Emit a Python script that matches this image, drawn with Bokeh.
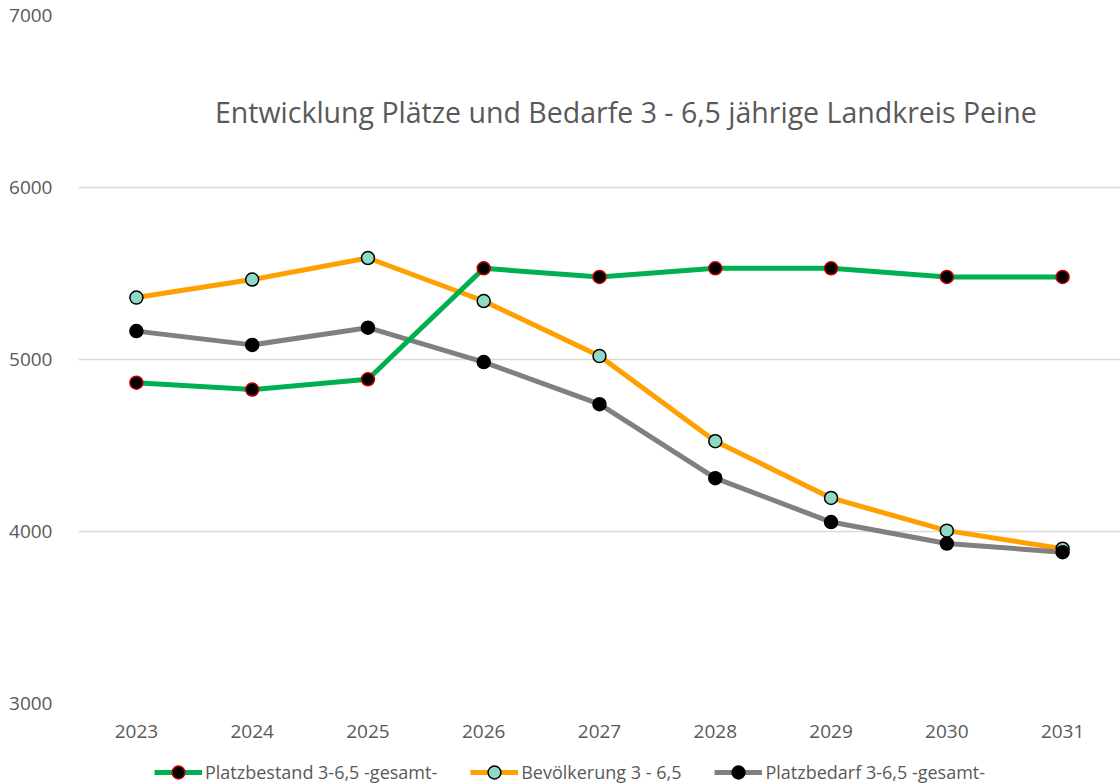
from bokeh.plotting import figure
from bokeh.models import Legend, LegendItem, Label, FixedTicker, Range1d
from bokeh.layouts import column
from bokeh.embed import file_html
from bokeh.resources import INLINE

years = ["2023", "2024", "2025", "2026", "2027", "2028", "2029", "2030", "2031"]
platzbestand = [4865, 4825, 4885, 5530, 5480, 5530, 5530, 5480, 5480]
bevoelkerung = [5360, 5465, 5590, 5340, 5020, 4525, 4195, 4005, 3900]
platzbedarf = [5165, 5085, 5185, 4985, 4740, 4310, 4055, 3930, 3880]

title_text = "Entwicklung  Plätze und Bedarfe 3 - 6,5 jährige Landkreis Peine"
series_labels = ["Platzbestand 3-6,5 -gesamt-", "Bevölkerung 3 - 6,5", "Platzbedarf 3-6,5 -gesamt-"]

FONT = "Open Sans"
TXT = "#595959"

styles = [
    dict(line_color="#00B050", fill_color="black", marker_line="#C00000"),
    dict(line_color="#FFA000", fill_color="#8FDAC6", marker_line="black"),
    dict(line_color="#808080", fill_color="black", marker_line="black"),
]
series = [platzbestand, bevoelkerung, platzbedarf]

p = figure(x_range=years, y_range=Range1d(3000, 7000), width=1120, height=744,
           output_backend="svg", toolbar_location=None,
           min_border_left=78, min_border_right=0, min_border_top=15, min_border_bottom=41)
p.outline_line_color = None
p.xgrid.grid_line_color = None
p.ygrid.grid_line_color = "#D9D9D9"
p.ygrid.grid_line_width = 1.3
p.yaxis.ticker = FixedTicker(ticks=[3000, 4000, 5000, 6000, 7000])

for ax in (p.xaxis, p.yaxis):
    ax.axis_line_color = None
    ax.major_tick_line_color = None
    ax.minor_tick_line_color = None
    ax.major_label_text_color = TXT
    ax.major_label_text_font = FONT
    ax.major_label_text_font_size = "19px"
p.xaxis.major_label_standoff = 15
p.yaxis.major_label_standoff = 20

# draw order: orange, gray, green (green on top)
for i in (1, 2, 0):
    st = styles[i]
    p.line(years, series[i], line_color=st["line_color"], line_width=5)
    p.scatter(years, series[i], size=13, fill_color=st["fill_color"],
              line_color=st["marker_line"], line_width=1.5)

title = Label(x=4.76, y=6440, text=title_text, text_font=FONT, text_font_size="28.5px",
              text_color=TXT, text_align="center", text_baseline="middle")
p.add_layout(title)

# legend strip below the chart
q = figure(x_range=years, y_range=Range1d(3000, 7000), width=1120, height=40,
           output_backend="svg", toolbar_location=None,
           x_axis_type=None, y_axis_type=None,
           min_border_left=0, min_border_right=0, min_border_top=0, min_border_bottom=0)
q.outline_line_color = None
q.xgrid.grid_line_color = None
q.ygrid.grid_line_color = None
items = []
for i in range(3):
    st = styles[i]
    lr = q.line(years, series[i], line_color=st["line_color"], line_width=5, visible=False)
    sr = q.scatter(years, series[i], size=13, fill_color=st["fill_color"],
                   line_color=st["marker_line"], line_width=1.5, visible=False)
    items.append(LegendItem(label=series_labels[i], renderers=[lr, sr]))

legend = Legend(items=items, orientation="horizontal", location=(76, -4),
                glyph_width=48, glyph_height=32, label_standoff=3, spacing=33,
                padding=0, margin=0, border_line_color=None, background_fill_alpha=0,
                label_text_font=FONT, label_text_font_size="18px", label_text_color=TXT)
q.add_layout(legend, "center")

layout = column(p, q, spacing=0)
open("out.html", "w").write(file_html(layout, INLINE))
